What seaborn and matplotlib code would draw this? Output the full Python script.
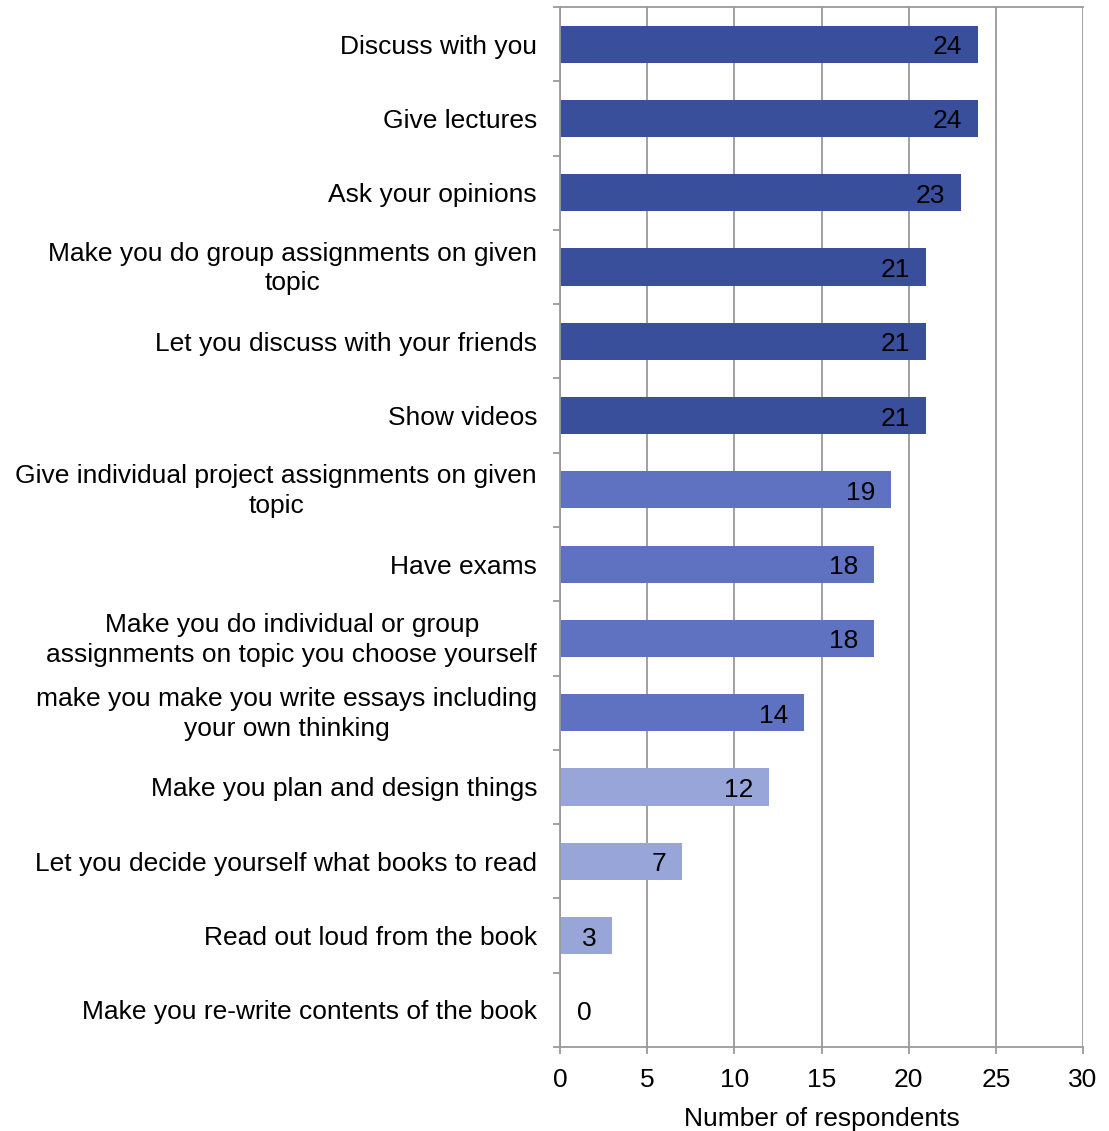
import matplotlib
matplotlib.use("Agg")
import matplotlib.pyplot as plt
import matplotlib.transforms as mtransforms
import seaborn as sns
import pandas as pd
import numpy as np

categories = [
    "Discuss with you",
    "Give lectures",
    "Ask your opinions",
    "Make you do group assignments on given\ntopic",
    "Let you discuss with your friends",
    "Show videos",
    "Give individual project assignments on given\ntopic",
    "Have exams",
    "Make you do individual or group\nassignments on topic you choose yourself",
    "make you make you write essays including\nyour own thinking",
    "Make you plan and design things",
    "Let you decide yourself what books to read",
    "Read out loud from the book",
    "Make you re-write contents of the book",
]
values = [24, 24, 23, 21, 21, 21, 19, 18, 18, 14, 12, 7, 3, 0]
groups = ["high"] * 6 + ["mid"] * 4 + ["low"] * 4
group_colors = {"high": "#3A4F9C", "mid": "#5F72C1", "low": "#98A5D8"}
x_ticks = [0, 5, 10, 15, 20, 25, 30]
x_label = "Number of respondents"

df = pd.DataFrame({"category": categories, "value": values, "group": groups})

sns.set_theme(style="white")
plt.rcParams["font.family"] = ["Liberation Sans", "DejaVu Sans"]

fig = plt.figure(figsize=(11.09, 11.31), dpi=100)
ax = fig.add_axes([560 / 1109, 1 - 1047 / 1131, (1083 - 560) / 1109, (1047 - 7) / 1131])

sns.barplot(data=df, y="category", x="value", hue="group", palette=group_colors,
            order=categories, orient="h", width=0.5, dodge=False, legend=False,
            saturation=1, linewidth=0, ax=ax, zorder=3)

ax.set_xlim(0, 30)
ax.set_ylim(len(categories) - 0.5, -0.5)
ax.set_xticks(x_ticks)
ax.set_xticklabels([str(t) for t in x_ticks])
ax.set_xlabel(x_label, fontsize=19, labelpad=11, color="black")
ax.set_ylabel("")

grid_c = "#9a9a9a"
ax.grid(axis="x", color=grid_c, linewidth=1.3, zorder=0)
ax.grid(axis="y", visible=False)
ax.set_axisbelow(True)
for s in ["left", "bottom", "top"]:
    ax.spines[s].set_visible(True)
    ax.spines[s].set_color(grid_c)
    ax.spines[s].set_linewidth(1.3)
    ax.spines[s].set_zorder(4)
ax.spines["right"].set_visible(False)

ax.yaxis.set_minor_locator(matplotlib.ticker.FixedLocator(np.arange(-0.5, len(categories), 1.0)))
ax.tick_params(axis="y", which="major", length=0, pad=16.5, labelsize=19, labelcolor="black")
ax.tick_params(axis="y", which="minor", left=True, length=5, width=1.3, color=grid_c, direction="out")
ax.tick_params(axis="x", which="major", bottom=True, length=5, width=1.3, color=grid_c,
               direction="out", pad=10, labelsize=19, labelcolor="black")

shift_up = mtransforms.ScaledTranslation(0, 4 / 100, fig.dpi_scale_trans)
for lbl in ax.get_yticklabels():
    lbl.set_multialignment("center")
    lbl.set_linespacing(1.3)
    if "\n" in lbl.get_text():
        lbl.set_transform(lbl.get_transform() + shift_up)

for i, v in enumerate(values):
    if v == 0:
        ax.annotate(str(v), xy=(v, i), xytext=(17, -3), textcoords="offset pixels",
                    ha="left", va="center", fontsize=19, color="black", zorder=5)
    else:
        ax.annotate(str(v), xy=(v, i), xytext=(-16, -3), textcoords="offset pixels",
                    ha="right", va="center", fontsize=19, color="black", zorder=5)

fig.savefig("out.png", dpi=100, facecolor="white")
